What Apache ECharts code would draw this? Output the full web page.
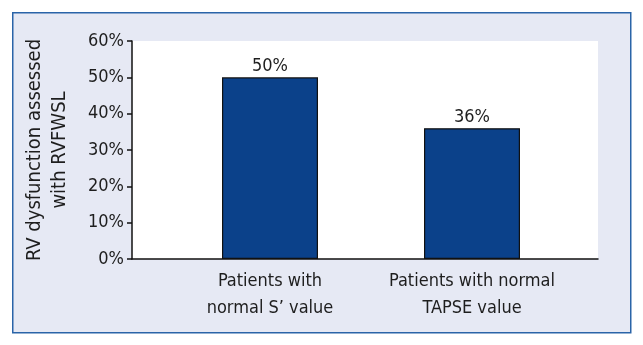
<!DOCTYPE html>
<html>
<head>
<meta charset="utf-8">
<script src="https://cdn.jsdelivr.net/npm/echarts@6/dist/echarts.min.js"></script>
<style>
html, body { margin: 0; padding: 0; background: #fff; }
#chart { width: 643px; height: 345px; }
</style>
</head>
<body>
<div id="chart"></div>
<script>
var categories = ['Patients with\nnormal S\u2019 value', 'Patients with normal\nTAPSE value'];
var values = [50, 36];
var yMin = 0, yMax = 60, yStep = 10;

var font = '"DejaVu Sans Condensed", "Liberation Sans", sans-serif';
var txt = '#1e1e1e';

var myChart = echarts.init(document.getElementById('chart'));
var option = {
	animation : false,
	backgroundColor : '#ffffff',
	graphic : [ {
		type : 'rect',
		left : 12, top : 12,
		shape : { width : 618, height : 320 },
		style : { fill : '#e6e9f4', stroke : '#2a64a8', lineWidth : 1.5 },
		z : -10
	} ],
	grid : [ {
		left : 132, top : 41, width : 466, height : 218,
		show : true, backgroundColor : '#ffffff', borderWidth : 0
	}, {
		left : 169, top : 41, width : 404, height : 218
	} ],
	xAxis : [ {
		gridIndex : 0, type : 'value', min : 0, max : 1,
		axisLine : { show : true, lineStyle : { color : '#111', width : 1.5 } },
		axisTick : { show : false }, axisLabel : { show : false }, splitLine : { show : false }
	}, {
		gridIndex : 1, type : 'category', data : categories,
		axisLine : { show : false }, axisTick : { show : false },
		axisLabel : { interval : 0, color : txt, fontSize : 18, fontFamily : font, lineHeight : 27, margin : 9 }
	} ],
	yAxis : [ {
		gridIndex : 0, type : 'value', min : yMin, max : yMax, interval : yStep,
		name : 'RV dysfunction assessed\nwith RVFWSL',
		nameLocation : 'middle', nameGap : 60,
		nameTextStyle : { color : txt, fontSize : 20, fontFamily : font, lineHeight : 25 },
		axisLine : { show : true, lineStyle : { color : '#111', width : 1.5 } },
		axisTick : { show : true, length : 5, lineStyle : { color : '#111', width : 1.5 } },
		axisLabel : { color : txt, fontSize : 18, fontFamily : font, margin : 8, formatter : '{value}%' },
		splitLine : { show : false }
	}, {
		gridIndex : 1, type : 'value', min : yMin, max : yMax, show : false
	} ],
	series : [ {
		type : 'bar',
		xAxisIndex : 1, yAxisIndex : 1,
		data : values,
		barWidth : 96,
		itemStyle : { color : '#0b418a', borderColor : '#111', borderWidth : 1.2 },
		label : { show : true, position : 'top', distance : 2, color : txt, fontSize : 18, fontFamily : font, formatter : '{c}%' }
	} ]
};
myChart.setOption(option);
</script>
</body>
</html>
